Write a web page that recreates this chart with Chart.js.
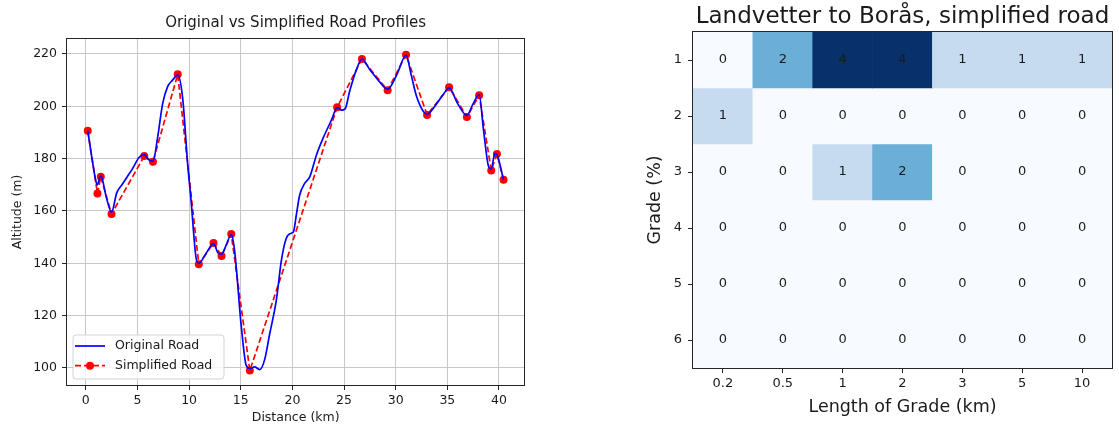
<!DOCTYPE html>
<html>
<head>
<meta charset="utf-8">
<script src="https://cdn.jsdelivr.net/npm/chart.js@4.4.1/dist/chart.umd.min.js"></script>
<style>
  body { margin: 0; background: #fff; }
  #profil { position: absolute; left: 0; top: 0; }
  #lutning { position: absolute; left: 560px; top: 0; }
</style>
</head>
<body>
<canvas id="profil" width="560" height="426"></canvas>
<canvas id="lutning" width="559" height="426"></canvas>
<script>
Chart.defaults.font.family = '"DejaVu Sans", sans-serif';
Chart.defaults.color = '#1a1a1a';
Chart.defaults.animation = false;

// road profile, distance in km and altitude in m
const origDist = [0.19, 0.6, 1.0, 1.1, 1.45, 2.0, 2.49, 3.0, 3.5, 4.0, 4.5, 5.17, 5.66, 6.1, 6.5,
  6.95, 7.44, 7.92, 8.4, 8.9, 9.38, 9.86, 10.19, 10.68, 10.94, 11.6, 12.36, 12.8, 13.14, 13.6,
  14.08, 14.4, 15.05, 15.53, 15.9, 16.34, 16.83, 17.3, 17.8, 18.45, 18.93, 19.4, 19.9, 20.1,
  20.4, 20.7, 21.2, 21.68, 22.33, 22.97, 23.79, 24.33, 24.76, 25.1, 25.56, 26.2, 26.73, 27.5,
  28.3, 29.22, 30.1, 31.0, 31.5, 32.0, 32.68, 33.04, 33.97, 34.6, 35.17, 36.0, 36.89, 37.5,
  38.08, 38.5, 38.99, 39.25, 39.6, 39.8, 40.44];
const origAlt = [190.6, 180, 171, 170, 173.5, 165, 159.5, 167, 170, 173, 176, 180.5, 181.5, 179.5, 179,
  188, 201, 207.5, 210, 212, 203, 178, 164, 142, 140, 143.5, 147.5, 144, 143.5, 147,
  151, 145, 116, 101, 99.8, 100.4, 99.4, 103, 113, 126, 141, 149.5, 151.5, 152,
  159, 166, 170.6, 173, 181.4, 187.8, 194.8, 199.5, 198.5, 199, 206, 214, 218, 214,
  210, 206.5, 212, 219.5, 212, 204, 198, 197, 201, 204.5, 207, 201, 196.5, 201,
  204.5, 191, 177, 176, 182, 181.5, 172];
const simpDist = [0.19, 1.13, 1.45, 2.49, 5.66, 6.5, 8.9, 10.94, 12.36, 13.14, 14.08, 15.88,
  24.33, 26.73, 29.22, 31.0, 33.04, 35.17, 36.89, 38.08, 39.25, 39.8, 40.44];
const simpAlt = [190.6, 166.7, 173.1, 158.8, 181, 178.8, 212.2, 139.6, 147.8, 142.8, 151.2, 99,
  199.6, 218.1, 206.1, 219.7, 196.7, 207.3, 195.9, 204.2, 175.5, 181.8, 171.9];
const distTicks = [0, 5, 10, 15, 20, 25, 30, 35, 40];
const altTicks = [100, 120, 140, 160, 180, 200, 220];

// grade histogram: rows are grade (%), columns length of grade (km)
const lengthLabels = ['0.2', '0.5', '1', '2', '3', '5', '10'];
const gradeRows = [1, 2, 3, 4, 5, 6];
const gradeCounts = [
  [0, 2, 4, 4, 1, 1, 1],
  [1, 0, 0, 0, 0, 0, 0],
  [0, 0, 1, 2, 0, 0, 0],
  [0, 0, 0, 0, 0, 0, 0],
  [0, 0, 0, 0, 0, 0, 0],
  [0, 0, 0, 0, 0, 0, 0]
];

// matplotlib "Blues"
const bluesStops = ['#f7fbff', '#deebf7', '#c6dbef', '#9ecae1', '#6baed6', '#4292c6', '#2171b5', '#08519c', '#08306b'];
function blues(t) {
  t = Math.max(0, Math.min(1, t)) * (bluesStops.length - 1);
  const i = Math.min(Math.floor(t), bluesStops.length - 2);
  const f = t - i;
  const a = bluesStops[i], b = bluesStops[i + 1];
  const ch = k => {
    const p = parseInt(a.substr(k, 2), 16), q = parseInt(b.substr(k, 2), 16);
    return Math.round(p + (q - p) * f);
  };
  return `rgb(${ch(1)}, ${ch(3)}, ${ch(5)})`;
}
const countMax = Math.max(...gradeCounts.flat());

function fixTicks(values) {
  return scale => { scale.ticks = values.map(v => ({ value: v })); };
}

const frame = {
  id: 'frame',
  afterDatasetsDraw(chart) {
    const { ctx, chartArea: a } = chart;
    ctx.save();
    ctx.strokeStyle = '#262626';
    ctx.lineWidth = 1;
    ctx.strokeRect(Math.round(a.left) - 0.5, Math.round(a.top) - 0.5,
      Math.round(a.right) - Math.round(a.left) + 1, Math.round(a.bottom) - Math.round(a.top) + 1);
    ctx.restore();
  }
};

// legend box in the lower left corner of the plot
const innerLegend = {
  id: 'innerLegend',
  afterDraw(chart) {
    const { ctx, chartArea: a } = chart;
    const x = a.left + 6, y = a.bottom - 50, w = 151, h = 44;
    ctx.save();
    ctx.beginPath();
    ctx.roundRect(x, y, w, h, 3);
    ctx.fillStyle = 'rgba(255,255,255,0.8)';
    ctx.fill();
    ctx.strokeStyle = '#d4d4d4';
    ctx.lineWidth = 1;
    ctx.stroke();
    chart.data.datasets.forEach((ds, i) => {
      const cy = y + 11 + i * 19.7;
      ctx.strokeStyle = ds.borderColor;
      ctx.lineWidth = ds.borderWidth;
      ctx.setLineDash(ds.borderDash || []);
      ctx.beginPath();
      ctx.moveTo(x + 2, cy);
      ctx.lineTo(x + 32, cy);
      ctx.stroke();
      ctx.setLineDash([]);
      if (ds.pointRadius) {
        ctx.fillStyle = ds.pointBackgroundColor;
        ctx.beginPath();
        ctx.arc(x + 17, cy, ds.pointRadius, 0, Math.PI * 2);
        ctx.fill();
      }
      ctx.fillStyle = '#1a1a1a';
      ctx.font = '12.5px "DejaVu Sans"';
      ctx.textBaseline = 'middle';
      ctx.fillText(ds.label, x + 42, cy);
    });
    ctx.restore();
  }
};

new Chart(document.getElementById('profil'), {
  type: 'line',
  data: {
    datasets: [{
      label: 'Original Road',
      data: origDist.map((d, i) => ({ x: d, y: origAlt[i] })),
      borderColor: '#0000ff',
      borderWidth: 1.7,
      pointRadius: 0,
      cubicInterpolationMode: 'monotone'
    }, {
      label: 'Simplified Road',
      data: simpDist.map((d, i) => ({ x: d, y: simpAlt[i] })),
      borderColor: '#ff0000',
      borderWidth: 1.7,
      borderDash: [6, 3],
      pointRadius: 4,
      pointBorderWidth: 0,
      pointBackgroundColor: '#ff0000',
      tension: 0
    }]
  },
  options: {
    responsive: false,
    layout: { padding: { left: 0, right: 35.7, top: 0, bottom: 0 } },
    plugins: {
      legend: { display: false },
      tooltip: { enabled: false },
      title: {
        display: true,
        fullSize: false,
        text: 'Original vs Simplified Road Profiles',
        font: { size: 15, weight: 'normal' },
        color: '#1a1a1a',
        padding: { top: 14, bottom: 7 }
      }
    },
    scales: {
      x: {
        type: 'linear',
        min: -1.82,
        max: 42.45,
        afterBuildTicks: fixTicks(distTicks),
        afterFit: s => { s.height = 41; },
        border: { display: false },
        grid: { color: '#c8c8c8', lineWidth: 1, tickColor: '#262626', tickLength: 5 },
        ticks: { font: { size: 12.5 }, padding: 3, maxRotation: 0 },
        title: { display: true, text: 'Distance (km)', font: { size: 12.5 }, padding: { top: 0, bottom: 0.5 } }
      },
      y: {
        min: 93.5,
        max: 225.7,
        afterBuildTicks: fixTicks(altTicks),
        afterFit: s => { s.width = 67; },
        border: { display: false },
        grid: { color: '#c8c8c8', lineWidth: 1, tickColor: '#262626', tickLength: 5 },
        ticks: { font: { size: 12.5 }, padding: 5 },
        title: { display: true, text: 'Altitude (m)', font: { size: 12.5 }, padding: { top: 10.5, bottom: 0 } }
      }
    }
  },
  plugins: [frame, innerLegend]
});

// count written in the middle of every cell
const cellValues = {
  id: 'cellValues',
  afterDatasetsDraw(chart) {
    const { ctx } = chart;
    ctx.save();
    ctx.font = '13px "DejaVu Sans"';
    ctx.fillStyle = '#1a1a1a';
    ctx.textAlign = 'center';
    ctx.textBaseline = 'middle';
    chart.data.datasets.forEach((ds, r) => {
      chart.getDatasetMeta(r).data.forEach((bar, c) => {
        ctx.fillText(String(gradeCounts[r][c]), bar.x, (bar.y + bar.base) / 2);
      });
    });
    ctx.restore();
  }
};

new Chart(document.getElementById('lutning'), {
  type: 'bar',
  data: {
    labels: lengthLabels,
    datasets: gradeRows.map((g, r) => ({
      label: g + ' %',
      data: lengthLabels.map(() => [g - 0.5, g + 0.5]),
      backgroundColor: gradeCounts[r].map(v => blues(v / countMax)),
      borderWidth: 0,
      barPercentage: 1,
      categoryPercentage: 1,
      grouped: false
    }))
  },
  options: {
    responsive: false,
    layout: { padding: { left: 0, right: 7, top: 0, bottom: 0 } },
    plugins: {
      legend: { display: false },
      tooltip: { enabled: false },
      title: {
        display: true,
        fullSize: false,
        text: 'Landvetter to Borås, simplified road',
        font: { size: 23, weight: 'normal' },
        color: '#1a1a1a',
        padding: { top: 3.5, bottom: 0.9 }
      }
    },
    scales: {
      x: {
        type: 'category',
        afterFit: s => { s.height = 58; },
        border: { display: false },
        grid: { drawOnChartArea: false, offset: false, tickColor: '#262626', tickLength: 5 },
        ticks: { font: { size: 13 }, padding: 3, maxRotation: 0 },
        title: { display: true, text: 'Length of Grade (km)', font: { size: 17.5 }, padding: { top: 0, bottom: 8.5 } }
      },
      y: {
        type: 'linear',
        reverse: true,
        min: 0.5,
        max: 6.5,
        afterBuildTicks: fixTicks(gradeRows),
        afterFit: s => { s.width = 133; },
        border: { display: false },
        grid: { drawOnChartArea: false, tickColor: '#262626', tickLength: 5 },
        ticks: { font: { size: 13 }, padding: 6 },
        title: { display: true, text: 'Grade (%)', font: { size: 17.5 }, padding: { top: 84.5, bottom: 0 } }
      }
    }
  },
  plugins: [cellValues, frame]
});
</script>
</body>
</html>
